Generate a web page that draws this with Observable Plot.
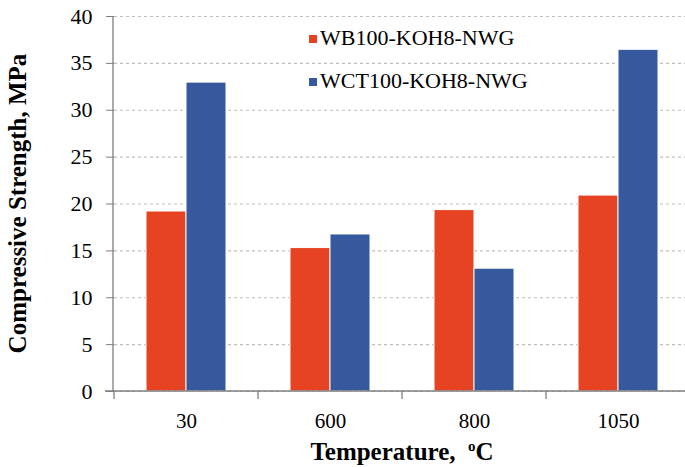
<!DOCTYPE html>
<html><head><meta charset="utf-8">
<script src="https://cdn.jsdelivr.net/npm/d3@7"></script>
<script src="https://cdn.jsdelivr.net/npm/@observablehq/plot@0.6"></script>
<style>
body{margin:0;background:#fff;}
#wrap{width:685px;height:467px;overflow:hidden;}
</style></head><body><div id="wrap"></div>
<script>
const temperatures = ["30", "600", "800", "1050"];
const seriesNames = ["WB100-KOH8-NWG", "WCT100-KOH8-NWG"];
const wbValues = [19.2, 15.3, 19.35, 20.9];
const wctValues = [32.95, 16.75, 13.1, 36.45];
const yTicks = [0, 5, 10, 15, 20, 25, 30, 35, 40];
const seriesColors = ["#E64322", "#36599E"];
const yTitle = "Compressive Strength, MPa";
const xTitle = ["Temperature,\u00A0 ", "o", "C"];

const data = temperatures.flatMap((t, i) => [
  {temp: t, series: seriesNames[0], value: wbValues[i]},
  {temp: t, series: seriesNames[1], value: wctValues[i]}
]);

const FONT = "'Liberation Serif','Times New Roman',Times,serif";

const plot = Plot.plot({
  width: 685, height: 467,
  marginLeft: 113, marginRight: -6, marginTop: 16, marginBottom: 76,
  style: {fontFamily: FONT, fontSize: "22px", color: "#000", background: "#fff", overflow: "hidden"},
  fx: {domain: temperatures, padding: 0, label: null},
  x: {domain: seriesNames, paddingInner: 0, paddingOuter: 0.784, axis: null},
  y: {domain: [0, 40], axis: null},
  color: {domain: seriesNames, range: seriesColors},
  marks: [
    Plot.gridY(yTicks, {stroke: "#bdbdbd", strokeOpacity: 1, strokeWidth: 1.2, strokeDasharray: "3,3"}),
    Plot.barY(data, {fx: "temp", x: "series", y: "value", fill: "series", stroke: "#fff", strokeWidth: 1}),
    Plot.axisY(yTicks, {tickSize: 8, tickPadding: 14, label: null, stroke: "#7f7f7f", fill: "#000", fontSize: 22}),
    Plot.axisFx({anchor: "bottom", tickSize: 0, tickPadding: 22, label: null, fill: "#000", fontSize: 21})
  ]
});

document.getElementById("wrap").appendChild(plot);

const svg = d3.select(plot);
svg.selectAll("text").style("font-family", FONT);
const yS = plot.scale("y");
const fxS = plot.scale("fx");
const colorS = plot.scale("color");
const x0 = fxS.range[0];
const xEnd = fxS.range[1];
const y0 = yS.apply(0), yTop = yS.apply(40);

const g = svg.append("g").style("font-family", FONT).attr("text-anchor", "start");
// y axis line
g.append("line").attr("x1", x0).attr("x2", x0).attr("y1", yTop).attr("y2", y0)
  .attr("stroke", "#7f7f7f").attr("stroke-width", 1.3);
// x axis baseline
g.append("line").attr("x1", x0 - 8).attr("x2", xEnd).attr("y1", y0).attr("y2", y0)
  .attr("stroke", "#7f7f7f").attr("stroke-width", 1.3);
// boundary ticks
const bounds = temperatures.map(t => fxS.apply(t)).concat([fxS.apply(temperatures[temperatures.length - 1]) + fxS.bandwidth]);
bounds.forEach(bx => {
  g.append("line").attr("x1", bx).attr("x2", bx).attr("y1", y0).attr("y2", y0 + 8)
    .attr("stroke", "#7f7f7f").attr("stroke-width", 1.3);
});

// axis titles
g.append("text")
  .attr("transform", `translate(26,${(yTop + y0) / 2}) rotate(-90)`)
  .attr("text-anchor", "middle").attr("font-weight", "bold")
  .attr("font-size", 25).attr("fill", "#000").style("font-family", FONT).text(yTitle);

const xt = g.append("text")
  .attr("x", (x0 + xEnd) / 2).attr("y", 460)
  .attr("text-anchor", "middle").attr("font-weight", "bold")
  .attr("font-size", 25).attr("fill", "#000").style("font-family", FONT);
xt.append("tspan").text(xTitle[0]);
xt.append("tspan").attr("font-size", 15).attr("dy", -9).text(xTitle[1]);
xt.append("tspan").attr("dy", 9).text(xTitle[2]);

// legend
seriesNames.forEach((name, i) => {
  const ly = 45 + i * 43;
  g.append("rect").attr("x", 309).attr("y", ly - 10).attr("width", 8).attr("height", 8)
    .attr("fill", colorS.apply(name));
  g.append("text").attr("x", 320).attr("y", ly).attr("text-anchor", "start")
    .attr("font-size", 22).attr("fill", "#000").style("font-family", FONT).text(name);
});
</script>
</body></html>
